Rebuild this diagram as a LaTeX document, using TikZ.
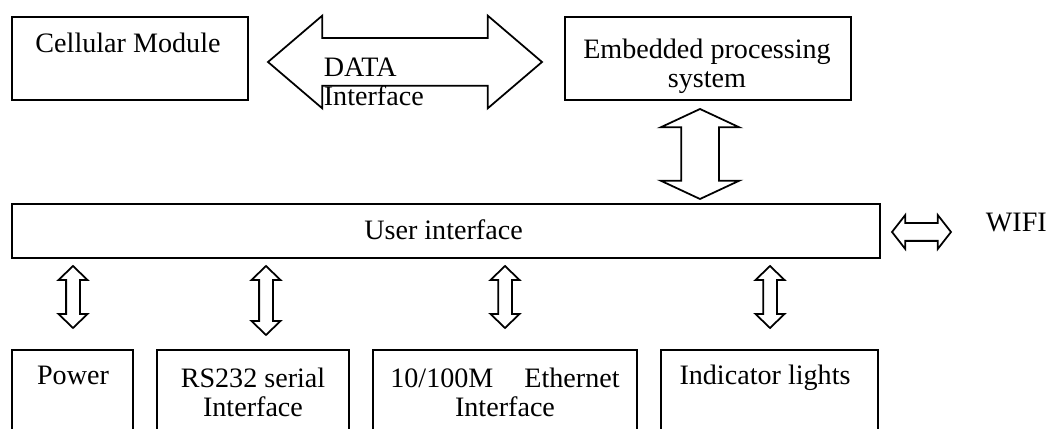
\documentclass[tikz,border=0pt]{standalone}
\usepackage{fontspec}
\setmainfont{Liberation Serif}
\usetikzlibrary{shapes.arrows}
\begin{document}
\begin{tikzpicture}[
        line width=1pt,
        font=\fontsize{16}{16.5}\selectfont
    ]
    \tikzset{
        mybox/.style = {rectangle, draw=black, inner sep=0pt},
        mytext/.style = {inner sep=0pt, align=center},
        fatarrow/.style = {double arrow, draw=black, fill=white, inner xsep=0pt},
        smallarrow/.style = {fatarrow, rotate=90, inner ysep=0.12cm,
            double arrow head extend=0.15cm, double arrow tip angle=92},
    }
        \useasboundingbox (0,0) rectangle (20.94,8.58);
        \clip (0,0) rectangle (20.94,8.58);
        % top row
        \node[mybox, minimum width=4.72cm, minimum height=1.66cm] at (2.60,7.41) (cell) {};
        \node[mybox, minimum width=5.72cm, minimum height=1.66cm] at (14.16,7.41) (emb) {};
        \node[mytext, anchor=base] at (2.56,7.52) (celltxt) {Cellular Module};
        \node[mytext, anchor=north] at (14.14,7.82) (embtxt) {Embedded processing\\system};
        %
        \node[fatarrow, minimum height=5.48cm, inner ysep=0.46cm,
            double arrow head extend=0.45cm, double arrow tip angle=81] at (8.10,7.34) (arrdata) {};
        \node[mytext, anchor=north west, align=left] at (6.46,7.44) (datatxt) {DATA\\Interface};
        %
        \node[fatarrow, rotate=90, minimum height=1.80cm, inner ysep=0.36cm,
            double arrow head extend=0.41cm, double arrow tip angle=130] at (14.00,5.50) (arremb) {};
        % user interface and wifi
        \node[mybox, minimum width=17.36cm, minimum height=1.08cm] at (8.92,3.96) (ui) {};
        \node[mytext, anchor=base] at (8.87,3.78) (uitxt) {User interface};
        \node[fatarrow, minimum height=1.18cm, inner ysep=0.16cm,
            double arrow head extend=0.16cm, double arrow tip angle=104] at (18.43,3.94) (arrwifi) {};
        \node[mytext, anchor=base west] at (19.70,3.94) (wifi) {WIFI};
        % bottom row
        \node[mybox, minimum width=2.42cm, minimum height=1.90cm] at (1.45,0.63) (pow) {};
        \node[mybox, minimum width=3.84cm, minimum height=1.90cm] at (5.06,0.63) (rs) {};
        \node[mybox, minimum width=5.28cm, minimum height=1.90cm] at (10.10,0.63) (eth) {};
        \node[mybox, minimum width=4.34cm, minimum height=1.90cm] at (15.39,0.63) (ind) {};
        \node[mytext, anchor=base] at (1.46,0.88) (powtxt) {Power};
        \node[mytext, anchor=north] at (5.06,1.24) (rstxt) {RS232 serial\\Interface};
        \node[mytext, anchor=north] at (10.10,1.24) (ethtxt) {10/100M\hspace{1.1em}Ethernet\\Interface};
        \node[mytext, anchor=base] at (15.30,0.88) (indtxt) {Indicator lights};
        %
        \node[smallarrow, minimum height=1.24cm] at (1.46,2.64) (arrpow) {};
        \node[smallarrow, minimum height=1.38cm] at (5.32,2.57) (arrrs) {};
        \node[smallarrow, minimum height=1.24cm] at (10.10,2.64) (arreth) {};
        \node[smallarrow, minimum height=1.24cm] at (15.40,2.64) (arrind) {};
    \end{tikzpicture}
\end{document}
